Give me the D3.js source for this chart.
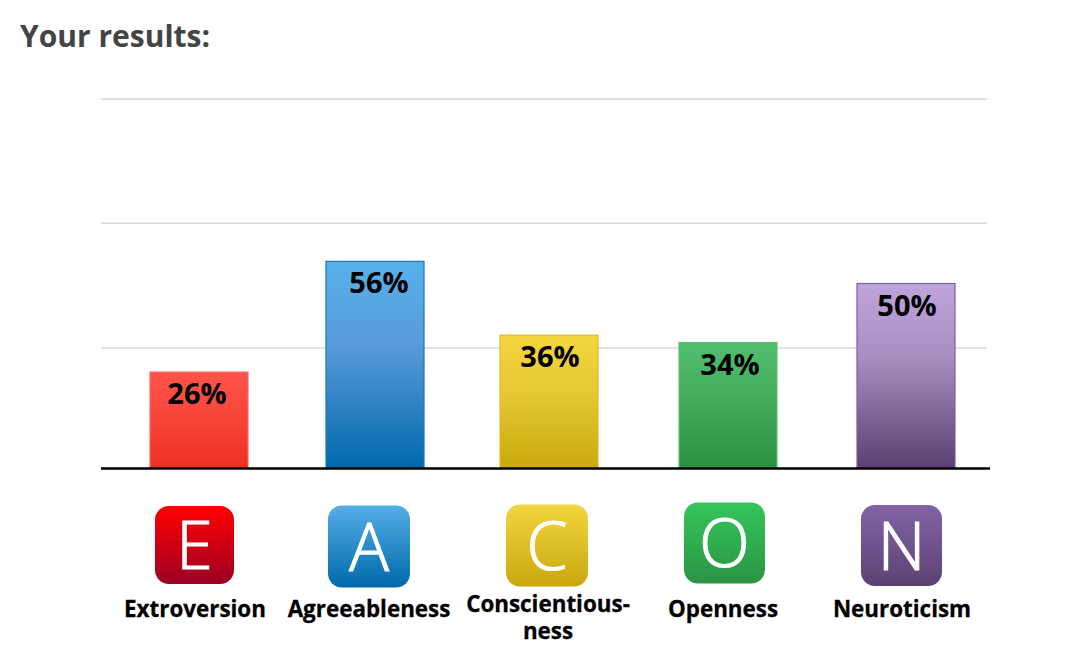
<!DOCTYPE html>
<html>
<head>
<meta charset="utf-8">
<script src="https://cdn.jsdelivr.net/npm/d3@7"></script>
<style>
  html, body { margin: 0; padding: 0; background: #fff; }
  svg { display: block; }
  .title { font-family: "Open Sans", sans-serif; font-weight: 700; font-size: 30px; fill: #444; }
  .value { font-family: "Open Sans", sans-serif; font-weight: 700; font-size: 29px; fill: #000; text-anchor: middle; }
  .name { font-family: "Open Sans", sans-serif; font-weight: 700; font-size: 22.4px; fill: #000; stroke: #000; stroke-width: 0.3; text-anchor: middle; }
  .letter { font-family: "Open Sans", sans-serif; font-weight: 300; font-size: 66px; fill: #fff; stroke: #fff; stroke-width: 1.2; text-anchor: middle; }
</style>
</head>
<body>
<div id="chart"></div>
<script>
const categories = ["Extroversion", "Agreeableness", "Conscientiousness", "Openness", "Neuroticism"];
const letters = ["E", "A", "C", "O", "N"];
const values = [26, 56, 36, 34, 50];
const gridValues = [32.5, 66.3, 100];
const nameLines = [["Extroversion"], ["Agreeableness"], ["Conscientious-", "ness"], ["Openness"], ["Neuroticism"]];

const barTop = ["#ff544b", "#55b1ec", "#f4d63e", "#51be6e", "#bea4dc"];
const barMid = ["#f9473e", "#5a9bd9", "#e8c935", "#45ae5f", "#a88fc2"];
const barBottom = ["#ee3024", "#0069ab", "#c9a90c", "#2a9242", "#5a3f70"];
const barStroke = ["#ff6a62", "#1b78b5", "#d9bd2a", "#5cc078", "#7a5f96"];
const iconTop = ["#ff0000", "#55aee6", "#f3d640", "#35c65b", "#8263a6"];
const iconBottom = ["#9b0024", "#0069ab", "#c9a80e", "#2b9444", "#5b4272"];

const svgWidth = 1083, svgHeight = 658;
const barWidth = 98;

let svg = d3.select("#chart").append("svg")
    .attr("width", svgWidth)
    .attr("height", svgHeight);

// bars are not evenly spaced in the original so each has its own slot
let xBar = d3.scaleOrdinal().domain(categories).range([199, 375, 549, 728, 906]);
let xValue = d3.scaleOrdinal().domain(categories).range([197, 379, 550, 730, 907]);
let xIcon = d3.scaleOrdinal().domain(categories).range([194.5, 369, 547, 724.5, 901.5]);
let yIcon = d3.scaleOrdinal().domain(categories).range([545, 546.5, 545.5, 543, 545.5]);
let iconSize = d3.scaleOrdinal().domain(categories).range([79, 82, 82, 81, 81]);
let xName = d3.scaleOrdinal().domain(categories).range([195, 369, 548, 723, 902]);
let y = d3.scaleLinear().domain([0, 100]).range([468, 99]);

let defs = svg.append("defs");
function addGradient(id, stops) {
    let g = defs.append("linearGradient")
        .attr("id", id)
        .attr("x1", 0).attr("y1", 0)
        .attr("x2", 0).attr("y2", 1);
    stops.forEach(s => g.append("stop").attr("offset", s[0]).attr("stop-color", s[1]));
}
categories.forEach((c, i) => {
    addGradient("bar" + i, [["0%", barTop[i]], ["40%", barMid[i]], ["100%", barBottom[i]]]);
    addGradient("icon" + i, [["0%", iconTop[i]], ["100%", iconBottom[i]]]);
});

svg.append("text")
    .attr("class", "title")
    .attr("x", 20)
    .attr("y", 47)
    .text("Your results:");

// gridlines
svg.selectAll(".grid")
    .data(gridValues)
    .join("line")
    .attr("class", "grid")
    .attr("x1", 101)
    .attr("x2", 987)
    .attr("y1", d => y(d))
    .attr("y2", d => y(d))
    .attr("stroke", "#d9d9d9")
    .attr("stroke-width", 1.5);

// bars
svg.selectAll(".bar")
    .data(values)
    .join("rect")
    .attr("class", "bar")
    .attr("x", (d, i) => xBar(categories[i]) - barWidth / 2)
    .attr("y", d => y(d))
    .attr("width", barWidth)
    .attr("height", d => y(0) - y(d))
    .attr("fill", (d, i) => `url(#bar${i})`)
    .attr("stroke", (d, i) => barStroke[i])
    .attr("stroke-width", 1.2);

// baseline
svg.append("line")
    .attr("x1", 101)
    .attr("x2", 990)
    .attr("y1", y(0) + 0.5)
    .attr("y2", y(0) + 0.5)
    .attr("stroke", "#000")
    .attr("stroke-width", 2.5);

svg.selectAll(".value")
    .data(values)
    .join("text")
    .attr("class", "value")
    .attr("x", (d, i) => xValue(categories[i]))
    .attr("y", d => y(d) + 32)
    .text(d => d + "%");

// icons under the axis
let icons = svg.selectAll(".icon")
    .data(categories)
    .join("g")
    .attr("class", "icon")
    .attr("transform", d => `translate(${xIcon(d)},${yIcon(d)})`);

icons.append("rect")
    .attr("x", d => -iconSize(d) / 2)
    .attr("y", (d, i) => -(i === 0 ? 78 : iconSize(d)) / 2)
    .attr("width", d => iconSize(d))
    .attr("height", (d, i) => i === 0 ? 78 : iconSize(d))
    .attr("rx", 14)
    .attr("fill", (d, i) => `url(#icon${i})`);

icons.append("text")
    .attr("class", "letter")
    .attr("y", 24)
    .text((d, i) => letters[i]);

// category names, conscientiousness is hyphenated over two lines
let names = svg.selectAll(".name")
    .data(categories)
    .join("text")
    .attr("class", "name")
    .attr("y", (d, i) => nameLines[i].length > 1 ? 612 : 617);

names.selectAll("tspan")
    .data((d, i) => nameLines[i].map(t => ({ t: t, c: d })))
    .join("tspan")
    .attr("x", d => xName(d.c))
    .attr("dy", (d, i) => i === 0 ? 0 : 27)
    .text(d => d.t);
</script>
</body>
</html>
